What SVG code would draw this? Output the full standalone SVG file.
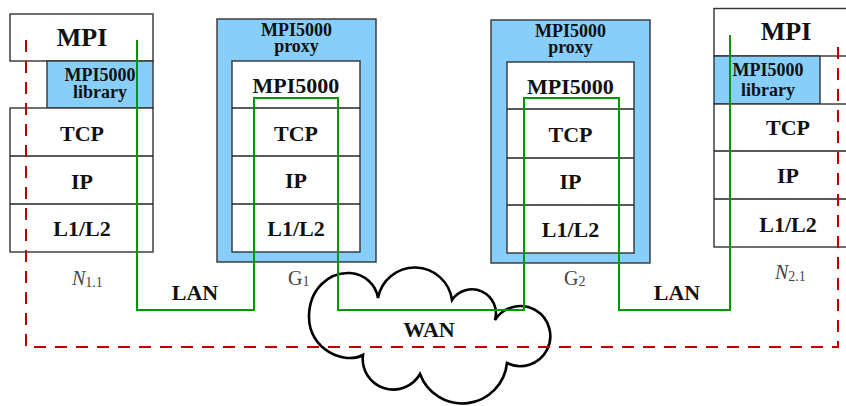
<svg xmlns="http://www.w3.org/2000/svg" width="846" height="406" viewBox="0 0 846 406">
<style>
  .box { fill: #ffffff; stroke: #333333; stroke-width: 1.4; }
  .blue { fill: #87cefa; stroke: #333333; stroke-width: 1.4; }
  .div { stroke: #222222; stroke-width: 1.4; fill: none; }
  .t { font-family: "Liberation Serif", "Times New Roman", serif; font-weight: bold; fill: #111111; text-anchor: middle; }
  .big { font-size: 26px; }
  .mid { font-size: 22px; }
  .sm { font-size: 18px; }
  .lbl { font-family: "Liberation Serif", "Times New Roman", serif; fill: #444444; font-size: 20px; }
  .sub { font-size: 14px; }
  .green { fill: none; stroke: #009a00; stroke-width: 2; }
  .red { fill: none; stroke: #c00000; stroke-width: 2; stroke-dasharray: 12 9; }
  .cloud { fill: #ffffff; stroke: #000000; stroke-width: 2.6; stroke-linejoin: miter; }
</style>

<g id="node-wan">
  <path class="cloud" d="M 378 298 A 37.5 37.5 0 0 1 452 300 A 24 24 0 0 1 495 320 A 30 30 0 1 1 507 363 A 45 45 0 0 1 420 374 A 30.6 30.6 0 0 1 363 355 C 345 365 309 350 309 317 C 309 288 330 272 350 273 C 365 274 376 285 378 298 Z"/>
  <text class="t mid" x="429" y="337">WAN</text>
</g>

<g id="node-n11">
  <rect class="box" x="10" y="14" width="143" height="47"/>
  <rect class="blue" x="47" y="61" width="106" height="47"/>
  <rect class="box" x="10" y="108" width="143" height="144"/>
  <line class="div" x1="10" y1="156" x2="153" y2="156"/>
  <line class="div" x1="10" y1="204" x2="153" y2="204"/>
  <text class="t big" x="82" y="46">MPI</text>
  <text class="t sm" x="100" y="81">MPI5000</text>
  <text class="t sm" x="100" y="98">library</text>
  <text class="t mid" x="82" y="141">TCP</text>
  <text class="t mid" x="82" y="189">IP</text>
  <text class="t mid" x="82" y="236">L1/L2</text>
  <text class="lbl" x="72" y="285"><tspan font-style="italic">N</tspan><tspan class="sub" dy="2">1.1</tspan></text>
</g>

<g id="node-g1">
  <rect class="blue" x="217" y="19" width="159" height="243"/>
  <rect class="box" x="232" y="61" width="128" height="191"/>
  <line class="div" x1="232" y1="108" x2="360" y2="108"/>
  <line class="div" x1="232" y1="156" x2="360" y2="156"/>
  <line class="div" x1="232" y1="204" x2="360" y2="204"/>
  <text class="t sm" x="296.5" y="36">MPI5000</text>
  <text class="t sm" x="296.5" y="52">proxy</text>
  <text class="t mid" x="296" y="93">MPI5000</text>
  <text class="t mid" x="296" y="141">TCP</text>
  <text class="t mid" x="296" y="188">IP</text>
  <text class="t mid" x="296" y="236">L1/L2</text>
  <text class="lbl" x="288" y="285">G<tspan class="sub" dy="1">1</tspan></text>
</g>

<g id="node-g2">
  <rect class="blue" x="491" y="20" width="159" height="243"/>
  <rect class="box" x="507" y="62" width="127" height="191"/>
  <line class="div" x1="507" y1="109" x2="634" y2="109"/>
  <line class="div" x1="507" y1="158" x2="634" y2="158"/>
  <line class="div" x1="507" y1="205" x2="634" y2="205"/>
  <text class="t sm" x="570.5" y="37">MPI5000</text>
  <text class="t sm" x="570.5" y="53">proxy</text>
  <text class="t mid" x="570.5" y="93.5">MPI5000</text>
  <text class="t mid" x="570.5" y="142">TCP</text>
  <text class="t mid" x="570.5" y="189">IP</text>
  <text class="t mid" x="570.5" y="237">L1/L2</text>
  <text class="lbl" x="564" y="285">G<tspan class="sub" dy="1">2</tspan></text>
</g>

<g id="node-n21">
  <rect class="box" x="714" y="8.5" width="144" height="47.5"/>
  <rect class="blue" x="714" y="56" width="106" height="48"/>
  <rect class="box" x="714" y="104" width="144" height="143"/>
  <line class="div" x1="714" y1="151" x2="858" y2="151"/>
  <line class="div" x1="714" y1="199" x2="858" y2="199"/>
  <text class="t big" x="786" y="40">MPI</text>
  <text class="t sm" x="768" y="76">MPI5000</text>
  <text class="t sm" x="768" y="96">library</text>
  <text class="t mid" x="788" y="135">TCP</text>
  <text class="t mid" x="788" y="183">IP</text>
  <text class="t mid" x="788" y="232">L1/L2</text>
  <text class="lbl" x="775" y="279"><tspan font-style="italic">N</tspan><tspan class="sub" dy="2">2.1</tspan></text>
</g>

<g id="connectors">
  <path class="red" d="M 26 40 V 347 H 838 V 40"/>
  <path class="green" d="M 137 40 V 310 H 254 V 98 H 338 V 310 H 524 V 98 H 619 V 310 H 730 V 35"/>
  <text class="t mid" x="195" y="300">LAN</text>
  <text class="t mid" x="677" y="300">LAN</text>
</g>
</svg>
